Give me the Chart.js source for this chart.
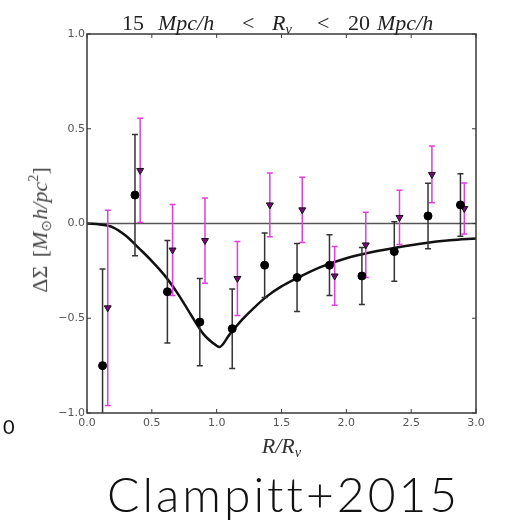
<!DOCTYPE html>
<html>
<head>
<meta charset="UTF-8">
<title>Clampitt+2015</title>
<script src="https://cdn.jsdelivr.net/npm/chart.js@4/dist/chart.umd.min.js"></script>
<style>
body{ margin:0; background:#fff; }
#wrap{ position:relative; width:509px; height:520px; }
.txt{ position:absolute; white-space:pre; color:#222; }
#title span{ position:absolute; top:12px; line-height:22px; font-family:"Liberation Serif",serif; font-size:22px; color:#222; white-space:pre; }
#ylab{ left:40px; top:230px; transform:translate(-50%,-50%) rotate(-90deg); font-family:"Liberation Serif",serif; font-size:22px; color:#444; word-spacing:3px; }
#xlab{ left:0; width:563px; top:433px; text-align:center; font-family:"Liberation Serif",serif; font-size:22px; color:#333; }
#cite{ left:107px; top:465px; font-family:"Lato",sans-serif; font-weight:300; font-size:48px; letter-spacing:3px; color:#111; }
#zero{ left:3px; top:414px; font-family:"Lato",sans-serif; font-size:20px; color:#111; }
i{ font-style:italic; }
sub{ font-size:65%; vertical-align:-0.3em; }
sup{ font-size:65%; vertical-align:0.6em; }
</style>
</head>
<body>
<div id="wrap">
<canvas id="myChart"></canvas>
<div id="title">
<span style="left:122px">15</span>
<span style="left:158px"><i>Mpc/h</i></span>
<span style="left:242px">&lt;</span>
<span style="left:272px"><i>R<sub>v</sub></i></span>
<span style="left:317px">&lt;</span>
<span style="left:348px">20</span>
<span style="left:377px"><i>Mpc/h</i></span>
</div>
<div class="txt" id="ylab">ΔΣ [<i>M</i><sub>⊙</sub><i>h/pc</i><sup>2</sup>]</div>
<div class="txt" id="xlab"><i>R/R<sub>v</sub></i></div>
<div class="txt" id="cite">Clampitt+2015</div>
<div class="txt" id="zero">0</div>
</div>

<script>
// points
var rBlack = [0.12, 0.37, 0.62, 0.87, 1.12, 1.37, 1.62, 1.87, 2.12, 2.37, 2.63, 2.88]
var dsBlack = [-0.75, 0.15, -0.36, -0.52, -0.555, -0.22, -0.285, -0.22, -0.277, -0.148, 0.04, 0.098]
var errBlack = [0.51, 0.32, 0.27, 0.23, 0.21, 0.17, 0.18, 0.16, 0.15, 0.157, 0.173, 0.165]

var rMag = [0.16, 0.41, 0.66, 0.91, 1.16, 1.41, 1.66, 1.91, 2.15, 2.41, 2.66, 2.91]
var dsMag = [-0.445, 0.28, -0.14, -0.09, -0.29, 0.098, 0.072, -0.277, -0.113, 0.032, 0.259, 0.079]
var errMag = [0.515, 0.275, 0.24, 0.225, 0.195, 0.168, 0.172, 0.155, 0.172, 0.143, 0.15, 0.135]

// model curve
var rModel = [0, 0.1, 0.2, 0.3, 0.4, 0.5, 0.6, 0.7, 0.8, 0.9, 1.0, 1.02, 1.1, 1.2, 1.3, 1.4, 1.5, 1.6, 1.8, 2.0, 2.2, 2.4, 2.6, 2.8, 3.0]
var dsModel = [0, -0.005, -0.02, -0.065, -0.13, -0.198, -0.275, -0.37, -0.48, -0.585, -0.645, -0.652, -0.585, -0.505, -0.437, -0.378, -0.332, -0.295, -0.23, -0.183, -0.15, -0.125, -0.104, -0.089, -0.079]

var zeroX = [0, 3]
var zeroY = [0, 0]

var xTicks = [0, 0.5, 1, 1.5, 2, 2.5, 3]
var yTicks = [-1, -0.5, 0, 0.5, 1]

var pts = function(xs, ys) {
	return xs.map(function(x, i) { return {x: x, y: ys[i]} })
}

var fmt = function(v) {
	return v.toFixed(1).replace('-', '\u2212')
}

// error bars, drawn under each dataset's markers
var errPlugin = {
	id: 'errbars',
	beforeDatasetDraw: function(chart, args) {
		var ds = chart.data.datasets[args.index]
		if (!ds.err) return
		var ctx = chart.ctx, xs = chart.scales.x, ys = chart.scales.y, a = chart.chartArea
		ctx.save()
		ctx.beginPath()
		ctx.rect(a.left, a.top, a.right - a.left, a.bottom - a.top)
		ctx.clip()
		ctx.strokeStyle = ds.errColor
		ctx.lineWidth = 1.5
		ds.data.forEach(function(p, i) {
			var px = xs.getPixelForValue(p.x)
			var top = ys.getPixelForValue(p.y + ds.err[i])
			var bot = ys.getPixelForValue(p.y - ds.err[i])
			ctx.beginPath()
			ctx.moveTo(px, top); ctx.lineTo(px, bot)
			ctx.moveTo(px - 3, top); ctx.lineTo(px + 3, top)
			ctx.moveTo(px - 3, bot); ctx.lineTo(px + 3, bot)
			ctx.stroke()
		})
		ctx.restore()
	}
}

// matplotlib style frame with inward ticks
var framePlugin = {
	id: 'frame',
	afterDraw: function(chart) {
		var ctx = chart.ctx, a = chart.chartArea, xs = chart.scales.x, ys = chart.scales.y
		ctx.save()
		ctx.strokeStyle = '#3a3a3a'
		ctx.lineWidth = 1.5
		ctx.strokeRect(a.left, a.top, a.right - a.left, a.bottom - a.top)
		ctx.lineWidth = 1
		ctx.beginPath()
		xTicks.forEach(function(v) {
			var px = xs.getPixelForValue(v)
			ctx.moveTo(px, a.bottom); ctx.lineTo(px, a.bottom - 4)
			ctx.moveTo(px, a.top); ctx.lineTo(px, a.top + 4)
		})
		yTicks.forEach(function(v) {
			var py = ys.getPixelForValue(v)
			ctx.moveTo(a.left, py); ctx.lineTo(a.left + 4, py)
			ctx.moveTo(a.right, py); ctx.lineTo(a.right - 4, py)
		})
		ctx.stroke()
		ctx.restore()
	}
}

var ctx = document.getElementById('myChart').getContext('2d')
var chart = new Chart(ctx, {
	type: 'scatter',
	data: {
		datasets: [{
			label: 'tangential',
			data: pts(rBlack, dsBlack),
			err: errBlack,
			errColor: '#333333',
			pointStyle: 'circle',
			pointRadius: 4,
			backgroundColor: '#000',
			borderColor: '#000',
			borderWidth: 1,
			order: 1
		},{
			label: 'cross',
			data: pts(rMag, dsMag),
			err: errMag,
			errColor: '#e23de2',
			pointStyle: 'triangle',
			rotation: 180,
			pointRadius: 4,
			backgroundColor: '#7a0a7a',
			borderColor: '#111',
			borderWidth: 1,
			order: 2
		},{
			label: 'model',
			type: 'line',
			data: pts(rModel, dsModel),
			borderColor: '#111',
			borderWidth: 2.5,
			pointRadius: 0,
			cubicInterpolationMode: 'monotone',
			fill: false,
			order: 3
		},{
			label: 'zero',
			type: 'line',
			data: pts(zeroX, zeroY),
			borderColor: '#555',
			borderWidth: 1.5,
			pointRadius: 0,
			fill: false,
			order: 4
		}]
	},
	options: {
		responsive: true,
		maintainAspectRatio: false,
		animation: false,
		layout: { padding: { left: 0, top: 34, right: 33, bottom: 0 } },
		plugins: { legend: { display: false }, tooltip: { enabled: false } },
		scales: {
			x: {
				type: 'linear', min: 0, max: 3,
				grid: { display: false, drawTicks: false },
				border: { display: false },
				afterFit: function(s) { s.height = 107 },
				afterBuildTicks: function(s) { s.ticks = xTicks.map(function(v) { return {value: v} }) },
				ticks: { callback: fmt, padding: 4, color: '#555', maxRotation: 0,
					font: { family: 'DejaVu Sans', size: 11 } }
			},
			y: {
				type: 'linear', min: -1, max: 1,
				grid: { display: false, drawTicks: false },
				border: { display: false },
				afterFit: function(s) { s.width = 87 },
				afterBuildTicks: function(s) { s.ticks = yTicks.map(function(v) { return {value: v} }) },
				ticks: { callback: fmt, padding: 2, color: '#555',
					font: { family: 'DejaVu Sans', size: 11 } }
			}
		}
	},
	plugins: [errPlugin, framePlugin]
})
</script>
</body>
</html>
